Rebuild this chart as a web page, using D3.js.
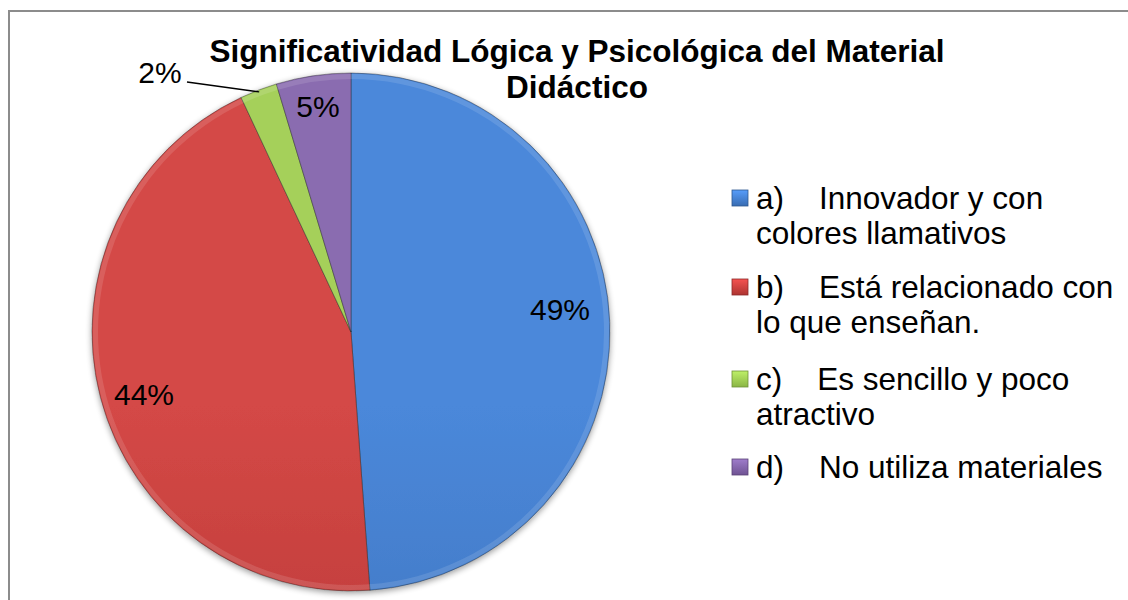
<!DOCTYPE html>
<html><head><meta charset="utf-8">
<script src="https://cdn.jsdelivr.net/npm/d3@7"></script>
<style>html,body{margin:0;padding:0;background:#fff;}svg{display:block;font-family:"Liberation Sans",Arial,sans-serif;}</style>
</head><body>
<svg id="c" width="1128" height="600"></svg>
<script>
const categories = ["a)\u00A0\u00A0\u00A0\u00A0Innovador y con|colores llamativos",
  "b)\u00A0\u00A0\u00A0\u00A0Está relacionado con|lo que enseñan.",
  "c)\u00A0\u00A0\u00A0\u00A0Es sencillo y poco|atractivo",
  "d)\u00A0\u00A0\u00A0\u00A0No utiliza materiales"];
const values = [21, 19, 1, 2];
const pctLabels = ["49%", "44%", "2%", "5%"];
const colorsTop = ["#4b88da", "#d44846", "#a5d05a", "#8a6cb0"];
const colorsBot = ["#386cb2", "#ad3431", "#8ab545", "#6f5393"];
const titleLines = ["Significatividad Lógica y Psicológica del Material", "Didáctico"];

const svg = d3.select("#c");
const defs = svg.append("defs");
const cx = 351, cy = 332, R = 259;

// border
svg.append("rect").attr("x", 9).attr("y", 11).attr("width", 1140).attr("height", 620)
  .attr("fill", "#fff").attr("stroke", "#8c8c8c").attr("stroke-width", 2);

// shadow filter
const f = defs.append("filter").attr("id", "sh").attr("x", "-10%").attr("y", "-10%").attr("width", "120%").attr("height", "120%");
f.append("feGaussianBlur").attr("in", "SourceAlpha").attr("stdDeviation", 3).attr("result", "b");
f.append("feOffset").attr("in", "b").attr("dx", 0).attr("dy", 2).attr("result", "o");
f.append("feComponentTransfer").attr("in", "o").attr("result", "o2").append("feFuncA").attr("type", "linear").attr("slope", 0.4);
const fm = f.append("feMerge"); fm.append("feMergeNode").attr("in", "o2"); fm.append("feMergeNode").attr("in", "SourceGraphic");

values.forEach((v, i) => {
  const g = defs.append("linearGradient").attr("id", "g" + i)
    .attr("gradientUnits", "userSpaceOnUse").attr("x1", 0).attr("y1", cy - R).attr("x2", 0).attr("y2", cy + R);
  g.append("stop").attr("offset", 0).attr("stop-color", colorsTop[i]);
  g.append("stop").attr("offset", 1).attr("stop-color", colorsBot[i]);
  const lg = defs.append("linearGradient").attr("id", "lg" + i).attr("x1", 0).attr("y1", 0).attr("x2", 0).attr("y2", 1);
  lg.append("stop").attr("offset", 0).attr("stop-color", d3.color(colorsTop[i]).brighter(0.4));
  lg.append("stop").attr("offset", 1).attr("stop-color", colorsBot[i]);
});

const pie = d3.pie().sort(null).value(d => d);
const arcs = pie(values);
const arc = d3.arc().innerRadius(0).outerRadius(R);

const pg = svg.append("g").attr("transform", `translate(${cx},${cy})`);
pg.append("g").attr("filter", "url(#sh)").selectAll("path").data(arcs).join("path")
  .attr("d", arc).attr("fill", (d, i) => `url(#g${i})`)
  .attr("stroke", "#2b2b2b").attr("stroke-opacity", 0.55).attr("stroke-width", 0.8);
// bevel highlight
pg.append("g").selectAll("path").data(arcs).join("path")
  .attr("d", d => d3.arc().innerRadius(R - 6).outerRadius(R - 1)(d))
  .attr("fill", "#fff").attr("opacity", 0.12);

// labels
const labelPos = [[560, 320], [144, 405], [160, 83], [318, 117]];
svg.append("g").selectAll("text").data(arcs).join("text")
  .attr("x", (d, i) => labelPos[i][0]).attr("y", (d, i) => labelPos[i][1])
  .attr("text-anchor", "middle").attr("font-size", 30).attr("fill", "#000")
  .text((d, i) => pctLabels[i]);
// leader line for 2%
const mid = (arcs[2].startAngle + arcs[2].endAngle) / 2;
const ex = cx + Math.sin(mid) * (R - 2), ey = cy - Math.cos(mid) * (R - 2);
svg.append("path").attr("d", `M187,82L${ex},${ey}`).attr("stroke", "#000").attr("stroke-width", 1.3).attr("fill", "none");

// title (single text element with two lines)
const tt = svg.append("text").attr("text-anchor", "middle")
  .attr("font-size", 31.5).attr("font-weight", "bold").attr("fill", "#000");
tt.selectAll("tspan").data(titleLines).join("tspan")
  .attr("x", 577).attr("y", (d, i) => 62 + i * 36).text(d => d);

// legend
const itemY = [209, 298, 390, 478];
const leg = svg.append("g");
categories.forEach((c, i) => {
  const y = itemY[i];
  leg.append("rect").attr("x", 732).attr("y", y - 19).attr("width", 16).attr("height", 16)
    .attr("fill", `url(#lg${i})`).attr("stroke", d3.color(colorsBot[i]).darker(0.6)).attr("stroke-width", 0.8);
  const lines = c.split("|");
  const t = leg.append("text").attr("font-size", 31.5).attr("fill", "#000");
  lines.forEach((s, j) => {
    t.append("tspan").attr("x", 756).attr("y", y + j * 35).text(s);
  });
});
</script>
</body></html>
